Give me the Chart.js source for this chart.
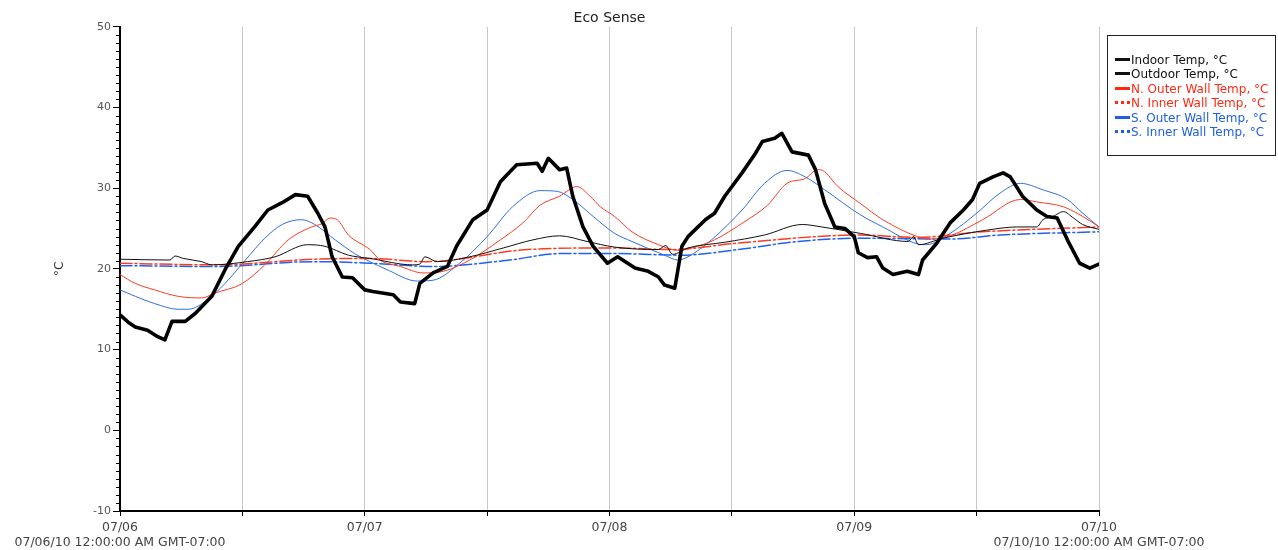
<!DOCTYPE html>
<html>
<head>
<meta charset="utf-8">
<script src="https://cdn.jsdelivr.net/npm/chart.js@4.4.1/dist/chart.umd.min.js"></script>
<style>
html,body{margin:0;padding:0;background:#fff;}
#wrap{position:relative;width:1278px;height:550px;}
#legend{position:absolute;left:1107px;top:35px;width:169px;height:121px;border:1px solid #222;box-sizing:border-box;
  font:12px "DejaVu Sans",sans-serif;padding:17px 0 0 7px;}
.row{height:14.4px;line-height:14.4px;white-space:nowrap;}
.smp{display:inline-block;width:15px;height:0;vertical-align:middle;margin-right:1px;position:relative;top:-1px;}
</style>
</head>
<body>
<div id="wrap">
<canvas id="c" width="1278" height="550"></canvas>
<div id="legend"></div>
</div>
<script>
// ---- Data (x in hours since 07/06/10 00:00 GMT-07:00) ----
const dayLabels = ['07/06','07/07','07/08','07/09','07/10'];
const rangeLabels = ['07/06/10 12:00:00 AM GMT-07:00','07/10/10 12:00:00 AM GMT-07:00'];

const outdoorHours = [0,0.8,1.5,2.7,3.7,4.4,5.1,6.4,7.4,9.0,10.3,11.6,13.2,14.5,15.9,17.2,18.4,19.4,20.1,20.8,21.8,22.8,24.0,24.8,26.8,27.5,28.9,29.4,30.7,32.1,33.0,34.6,36.0,37.3,38.9,40.9,41.4,42.0,43.1,43.8,44.4,45.4,46.4,47.8,48.8,50.5,51.8,52.8,53.4,54.4,55.1,55.7,57.4,58.3,59.3,61.0,62.3,63.0,64.2,64.9,65.9,67.5,68.2,69.1,70.1,71.1,72.0,72.4,73.3,74.2,74.8,75.8,77.2,78.3,78.7,80.1,81.4,82.7,83.6,84.3,85.6,86.6,87.3,88.5,89.9,90.9,91.9,92.9,94.1,95.1,96];
const outdoorTemps = [14.3,13.4,12.8,12.4,11.6,11.2,13.5,13.5,14.5,16.6,19.9,22.8,25.2,27.3,28.2,29.2,29.0,26.9,25.2,21.5,19.0,18.9,17.4,17.2,16.8,15.9,15.7,18.2,19.5,20.3,22.8,26.1,27.3,30.8,32.9,33.1,32.1,33.7,32.3,32.5,29.0,25.2,22.8,20.7,21.5,20.1,19.7,19.0,18.0,17.6,22.8,24.0,26.1,26.9,29.0,31.9,34.3,35.8,36.2,36.8,34.5,34.1,32.3,28.1,25.2,25.0,24.0,22.0,21.4,21.5,20.1,19.3,19.7,19.3,21.1,23.2,25.7,27.3,28.6,30.6,31.4,31.9,31.4,29.0,27.3,26.5,26.3,23.6,20.7,20.1,20.6];

const indoorHours = [0,4.9,5.4,6.2,8,9,12.5,15.2,18.4,20.1,22.4,24.5,28.7,29.4,29.9,31.1,34.3,37.6,40.5,43.1,45.8,48.5,52.8,53.5,54.2,55.7,59.3,63.2,66.9,68.8,72.6,77.3,77.8,78.3,80.7,85,88,89.9,90.5,91.5,92.5,93.5,94.4,96];
const indoorTemps = [21.2,21.1,21.6,21.3,20.9,20.5,20.9,21.5,23.0,22.8,21.7,21.3,20.5,20.6,21.5,20.9,21.5,22.6,23.6,24.1,23.4,22.7,22.4,22.9,21.8,22.6,23.3,24.2,25.5,25.2,24.4,23.4,24.0,23.0,23.8,24.8,25.2,25.2,26.1,26.5,27.1,26.3,25.5,24.9];

const nOuterHours = [0,1.5,3.4,5.7,8,9.3,12,14.2,16.5,18.8,19.8,20.6,21.3,22.4,24.5,25.5,27.5,29.7,31.7,34.3,37.3,39.5,41.2,43.1,44.8,46.1,47.1,48.5,50.2,52.8,54.7,56.1,58.3,61.3,63.5,65.4,67.2,68.4,68.9,70.4,72.6,74.8,78.2,79.4,81.4,84.6,88.3,89.9,92.5,94.4,96];
const nOuterTemps = [19.3,18.2,17.4,16.6,16.4,17.0,18.2,20.5,23.6,25.2,25.6,26.3,26.1,24.2,22.4,21.1,20.3,19.5,19.7,21.1,23.6,25.7,27.9,29.0,30.2,29.0,27.7,26.5,24.6,23.0,22.3,22.6,23.6,25.9,27.9,30.6,31.2,32.3,32.2,30.2,28.1,26.1,24.0,23.7,24.1,26.1,28.6,28.3,27.7,26.5,25.2];

const nInnerHours = [0,9.3,19,24.5,30,40,48.5,54,60.6,72.6,78,84.6,96];
const nInnerTemps = [20.7,20.5,21.2,21.3,20.9,22.4,22.6,22.4,23.2,24.2,23.9,24.6,25.2];

const sOuterHours = [0,1.5,3.4,5.7,6.7,8.6,10.3,12.3,14.2,15.9,17.8,19.1,21.1,23,24.5,26.2,29.1,30.7,33.3,36,38.5,41.2,42.9,44.4,46.4,48.5,50.2,53.4,54.7,55.7,58,61,63.2,65.4,67.2,69.1,72.6,74.8,78.2,79.1,81.4,84,86.3,88.3,90.5,92.9,94.4,96];
const sOuterTemps = [17.4,16.6,15.7,15.0,15.0,16.2,18.2,21.1,23.8,25.5,26.1,25.5,23.6,21.9,20.9,19.9,18.5,18.6,20.7,24.0,27.7,29.7,29.6,28.6,26.5,24.4,23.4,21.7,21.1,21.5,23.6,27.3,30.6,32.2,31.4,29.8,26.7,25.2,23.1,23.0,24.4,26.9,29.4,30.6,29.8,28.6,26.9,25.2];

const sInnerHours = [0,9.3,19,24.5,30.7,38.2,43.1,48.5,55.1,60.6,66.5,72.6,81.4,86.3,96];
const sInnerTemps = [20.4,20.3,20.9,20.7,20.3,21.1,21.9,21.9,21.7,22.4,23.4,23.8,23.7,24.2,24.6];

const seriesNames = ['Indoor Temp, °C','Outdoor Temp, °C','N. Outer Wall Temp, °C','N. Inner Wall Temp, °C','S. Outer Wall Temp, °C','S. Inner Wall Temp, °C'];

// ---- styles ----
const RED = '#ff3a22', BLUE = '#2f6fe0', BLUE2 = '#1f62f0';
const legendColors = ['#111','#111','#ff2a14','#ff2a14','#1f5fe0','#1f5fe0'];
const legendDotted = [false,false,false,true,false,true];

function pts(h, v){ return h.map((x,i)=>({x:x,y:v[i]})); }

const lg = document.getElementById('legend');
seriesNames.forEach((n,i)=>{
  const r = document.createElement('div'); r.className='row'; r.style.color=legendColors[i];
  const s = document.createElement('span'); s.className='smp';
  s.style.borderTop = '3px ' + (legendDotted[i] ? 'dotted ' : 'solid ') + legendColors[i];
  r.appendChild(s); r.appendChild(document.createTextNode(n)); lg.appendChild(r);
});

const minorTicks = {
  id:'minorTicks',
  afterDraw(chart){
    const y = chart.scales.y, ctx = chart.ctx;
    ctx.save(); ctx.strokeStyle='#000'; ctx.lineWidth=1;
    for (let v=Math.ceil(y.min); v<=y.max; v++){
      if (v%10===0) continue;
      const py = Math.round(y.getPixelForValue(v))+0.5;
      ctx.beginPath(); ctx.moveTo(y.right-4, py); ctx.lineTo(y.right, py); ctx.stroke();
    }
    ctx.restore();
  }
};

const FONT = '"DejaVu Sans", sans-serif';
new Chart(document.getElementById('c'), {
  type:'line',
  data:{ datasets:[
    {label:seriesNames[1], data:pts(outdoorHours,outdoorTemps), borderColor:'#000', borderWidth:3.6, tension:0},
    {label:seriesNames[0], data:pts(indoorHours,indoorTemps), borderColor:'#111', borderWidth:1, cubicInterpolationMode:'monotone'},
    {label:seriesNames[2], data:pts(nOuterHours,nOuterTemps), borderColor:RED, borderWidth:1, cubicInterpolationMode:'monotone'},
    {label:seriesNames[3], data:pts(nInnerHours,nInnerTemps), borderColor:RED, borderWidth:1.5, borderDash:[12,3,2,3], cubicInterpolationMode:'monotone'},
    {label:seriesNames[4], data:pts(sOuterHours,sOuterTemps), borderColor:BLUE, borderWidth:1, cubicInterpolationMode:'monotone'},
    {label:seriesNames[5], data:pts(sInnerHours,sInnerTemps), borderColor:BLUE2, borderWidth:1.5, borderDash:[12,3,2,3], cubicInterpolationMode:'monotone'}
  ]},
  options:{
    responsive:false, animation:false,
    parsing:false,
    elements:{ point:{radius:0}, line:{fill:false, borderJoinStyle:'round', borderCapStyle:'round'} },
    layout:{ padding:{left:49, right:179, top:0, bottom:0} },
    plugins:{
      legend:{display:false}, tooltip:{enabled:false},
      title:{display:true, text:'Eco Sense', fullSize:false, color:'#222', padding:{top:10,bottom:0}, font:{family:FONT, size:14, weight:'normal'}}
    },
    scales:{
      x:{ type:'linear', min:0, max:96,
        afterFit(s){ s.height = 39; },
        grid:{ color:'#c8c8c8', lineWidth:1, tickLength:5, tickColor:'#000', drawOnChartArea:true },
        border:{ display:true, color:'#000', width:2 },
        ticks:{ stepSize:12, autoSkip:false, maxRotation:0, padding:4, color:'#444', font:{family:FONT, size:12.5},
          callback(v){
            if (v % 24 !== 0) return '';
            const d = dayLabels[v/24];
            if (v === 0) return [d, rangeLabels[0]];
            if (v === 96) return [d, rangeLabels[1]];
            return d;
          } }
      },
      y:{ type:'linear', min:-10, max:50,
        afterFit(s){ s.width = 71; },
        grid:{ drawOnChartArea:false, drawTicks:true, tickLength:7, tickColor:'#000' },
        border:{ display:true, color:'#000', width:2 },
        ticks:{ stepSize:10, autoSkip:false, padding:2, color:'#555', font:{family:FONT, size:11} },
        title:{ display:true, text:'°C', color:'#333', font:{family:FONT, size:12} }
      }
    }
  },
  plugins:[minorTicks]
});
</script>
</body>
</html>
